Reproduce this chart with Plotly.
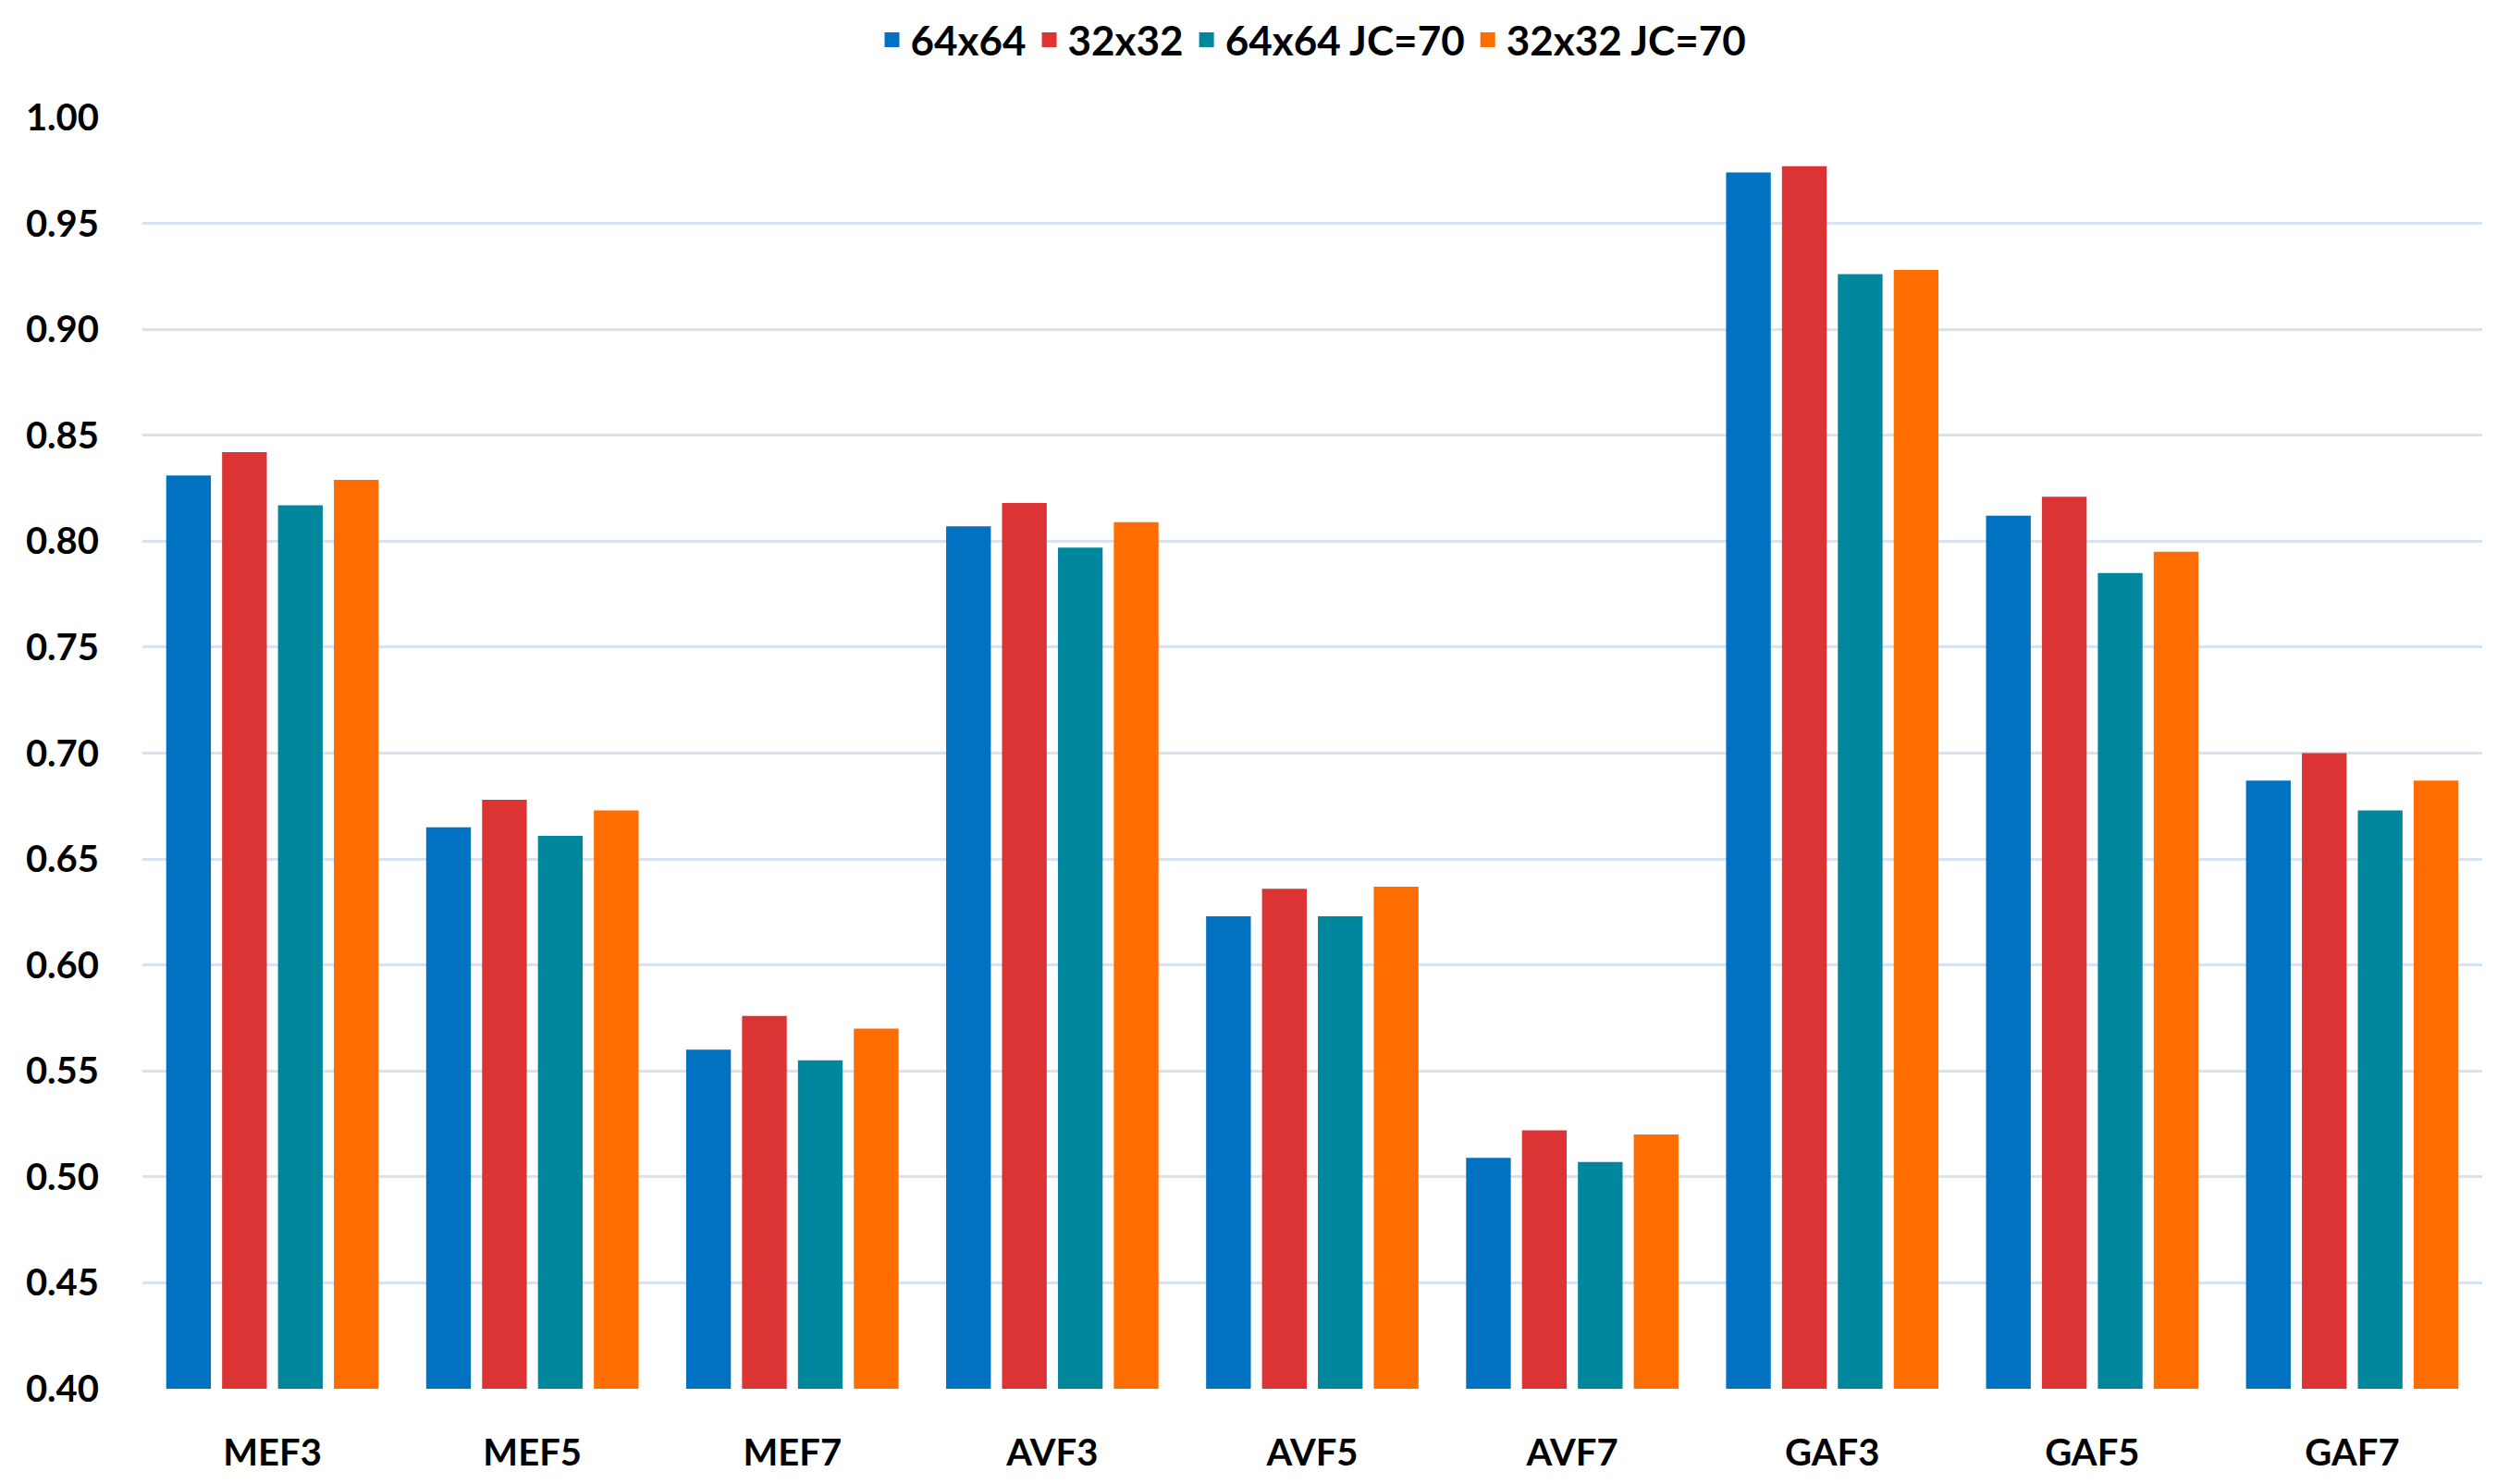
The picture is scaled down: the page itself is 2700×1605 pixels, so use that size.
import plotly.graph_objects as go

categories = ["MEF3", "MEF5", "MEF7", "AVF3", "AVF5", "AVF7", "GAF3", "GAF5", "GAF7"]
series_names = ["64x64", "32x32", "64x64 JC=70", "32x32 JC=70"]
v_64 = [0.831, 0.665, 0.560, 0.807, 0.623, 0.509, 0.974, 0.812, 0.687]
v_32 = [0.842, 0.678, 0.576, 0.818, 0.636, 0.522, 0.977, 0.821, 0.700]
v_64_jc = [0.817, 0.661, 0.555, 0.797, 0.623, 0.507, 0.926, 0.785, 0.673]
v_32_jc = [0.829, 0.673, 0.570, 0.809, 0.637, 0.520, 0.928, 0.795, 0.687]
y_ticks = [0.40, 0.45, 0.50, 0.55, 0.60, 0.65, 0.70, 0.75, 0.80, 0.85, 0.90, 0.95, 1.00]

colors = ["#0171C2", "#DC3434", "#00879E", "#FF6C00"]
values = [v_64, v_32, v_64_jc, v_32_jc]

fig = go.Figure()
for name, vals, c in zip(series_names, values, colors):
    fig.add_trace(go.Bar(x=categories, y=vals, name=name, legendgroup=name, showlegend=False,
                         marker=dict(color=c, line=dict(width=0))))
# legend entries with larger square swatches
for name, c in zip(series_names, colors):
    fig.add_trace(go.Scatter(x=[None], y=[None], mode="markers", name=name, legendgroup=name,
                             marker=dict(symbol="square", size=24, color=c)))

font_family = "Lato, 'Open Sans', sans-serif"
fig.update_layout(
    width=2700, height=1605,
    paper_bgcolor="white", plot_bgcolor="white",
    barmode="group", bargap=0.14, bargroupgap=0.2,
    margin=dict(l=146, r=24, t=119, b=111),
    font=dict(family=font_family, size=40, color="black"),
    legend=dict(orientation="h", x=0.5, xanchor="center", y=1.0, yref="container", yanchor="top",
                font=dict(size=44, family=font_family, weight="bold"), itemwidth=30,
                itemsizing="trace", traceorder="normal"),
    showlegend=True,
)
fig.update_xaxes(showgrid=False, showline=False, ticks="outside", ticklen=34, tickcolor="rgba(0,0,0,0)",
                 tickfont=dict(size=40, weight="bold"))
fig.update_yaxes(range=[0.4, 1.0], tickvals=y_ticks, tickformat=".2f", showgrid=True,
                 gridcolor="#D6E3F1", gridwidth=3, zeroline=False, showline=False,
                 ticks="outside", ticklen=38, tickcolor="rgba(0,0,0,0)",
                 tickfont=dict(size=40, weight="bold"))

fig.write_html("out.html")
